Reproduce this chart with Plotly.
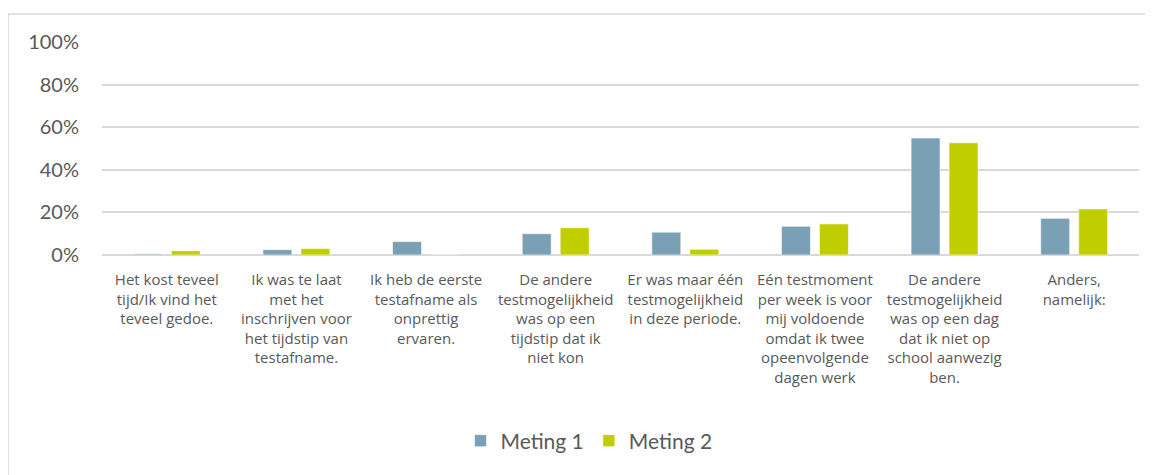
import plotly.graph_objects as go

# categories (answer options) and the share per measurement
categories = [
    'Het kost teveel<br>tijd/Ik vind het<br>teveel gedoe.',
    'Ik was te laat<br>met het<br>inschrijven voor<br>het tijdstip van<br>testafname.',
    'Ik heb de eerste<br>testafname als<br>onprettig<br>ervaren.',
    'De andere<br>testmogelijkheid<br>was op een<br>tijdstip dat ik<br>niet kon',
    'Er was maar één<br>testmogelijkheid<br>in deze periode.',
    'Eén testmoment<br>per week is voor<br>mij voldoende<br>omdat ik twee<br>opeenvolgende<br>dagen werk',
    'De andere<br>testmogelijkheid<br>was op een dag<br>dat ik niet op<br>school aanwezig<br>ben.',
    'Anders,<br>namelijk:',
]
meting_1 = [0.005, 0.025, 0.063, 0.100, 0.107, 0.135, 0.549, 0.172]
meting_2 = [0.020, 0.030, 0.0, 0.128, 0.027, 0.146, 0.527, 0.216]
y_ticks = [0, 0.2, 0.4, 0.6, 0.8, 1.0]

FONT = 'Lato, "Open Sans", sans-serif'
LABEL_FONT = '"Open Sans", Lato, sans-serif'
GRID = '#D9D9D9'
TEXT = '#595959'

fig = go.Figure()
fig.add_trace(go.Bar(x=categories, y=meting_1, name='Meting 1',
                     marker=dict(color='#79A0B4', line=dict(color='#FFFFFF', width=0.6))))
fig.add_trace(go.Bar(x=categories, y=meting_2, name='Meting 2',
                     marker=dict(color='#C0CE00', line=dict(color='#FFFFFF', width=0.6))))

# frame around the chart (partly cropped in the reference)
fig.add_shape(type='rect', xref='paper', yref='paper',
              x0=-0.0906, x1=1.3, y0=-1.5, y1=1.131,
              line=dict(color=GRID, width=1.5), fillcolor='rgba(0,0,0,0)', layer='below')

# the page body adds an 8px offset; figure is shrunk by 8px so the page doesn't scroll
fig.update_layout(
    width=1145, height=467,
    margin=dict(l=94, r=14, t=34, b=219.5, autoexpand=False),
    paper_bgcolor='white', plot_bgcolor='white',
    barmode='group', bargap=0.414, bargroupgap=0.237,
    font=dict(family=FONT, color=TEXT),
    showlegend=True,
    legend=dict(orientation='h', xref='container', yref='container',
                x=0.5074, xanchor='center', y=0.0728, yanchor='middle',
                font=dict(size=21, color=TEXT), itemwidth=30,
                traceorder='normal'),
    xaxis=dict(tickfont=dict(size=15, color=TEXT, family=LABEL_FONT), ticks='',
               showline=False, showgrid=False, tickangle=0,
               automargin=False, ticklabelstandoff=14),
    yaxis=dict(range=[0, 1], tickvals=y_ticks, tickformat='.0%',
               tickfont=dict(size=20, color=TEXT),
               showgrid=True, gridcolor=GRID, gridwidth=1.5,
               zeroline=True, zerolinecolor=GRID, zerolinewidth=1.5,
               showline=False, ticks='', ticklabelstandoff=22, automargin=False),
)

fig.write_html('out.html')
